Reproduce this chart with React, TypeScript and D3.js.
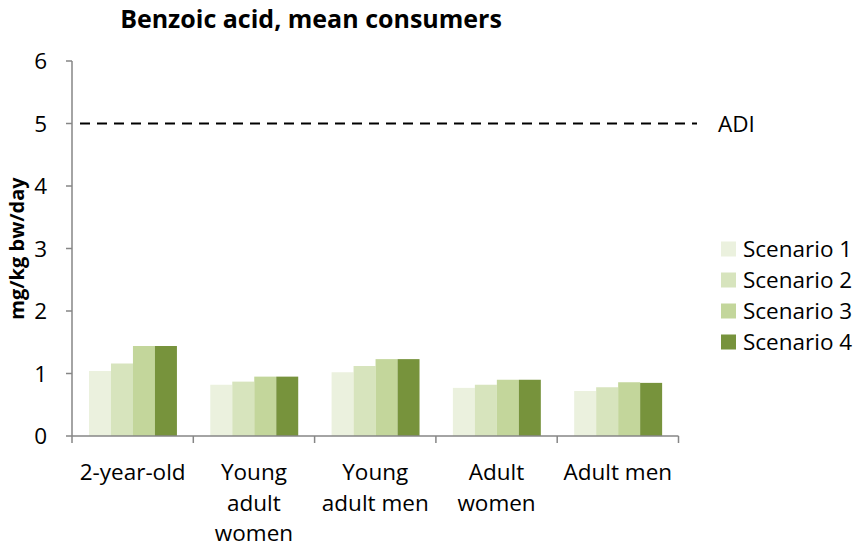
import React from "react";
import * as d3 from "d3";

const categories = ["2-year-old", "Young adult women", "Young adult men", "Adult women", "Adult men"];
const categoryLines = [["2-year-old"], ["Young", "adult", "women"], ["Young", "adult men"], ["Adult", "women"], ["Adult men"]];
const seriesNames = ["Scenario 1", "Scenario 2", "Scenario 3", "Scenario 4"];
const scenario1 = [1.04, 0.82, 1.02, 0.77, 0.72];
const scenario2 = [1.16, 0.87, 1.12, 0.82, 0.78];
const scenario3 = [1.44, 0.95, 1.23, 0.9, 0.86];
const scenario4 = [1.44, 0.95, 1.23, 0.9, 0.85];
const seriesValues = [scenario1, scenario2, scenario3, scenario4];
const colors = ["#EBF1DE", "#D7E4BD", "#C3D69B", "#77933C"];
const yTicks = [0, 1, 2, 3, 4, 5, 6];
const adiValue = 5;
const adiLabel = "ADI";
const title = "Benzoic acid, mean consumers";
const yTitle = "mg/kg bw/day";

const FONT = "'Open Sans', Lato, sans-serif";

export default function App() {
  const W = 859, H = 547;
  const left = 72, right = 678.5, top = 61, bottom = 436;
  const x0 = d3.scaleBand<string>().domain(categories).range([left, right]).padding(0);
  const bw = x0.bandwidth();
  const x1 = d3.scaleBand<string>().domain(seriesNames).range([bw * 0.14, bw * 0.865]).padding(0);
  const y = d3.scaleLinear().domain([0, 6]).range([bottom, top]);
  const axisColor = "#868686";
  const fs = 22.5;

  return (
    <svg width={W} height={H} style={{ position: "absolute", left: 0, top: 0, background: "#fff" }} fontFamily={FONT}>
      <rect x={0} y={0} width={W} height={H} fill="#fff" />
      <text x={311} y={28} textAnchor="middle" fontSize={25} fontWeight="bold" fill="#000">{title}</text>
      {/* bars */}
      {categories.map((c, ci) => (
        <g key={c} transform={`translate(${x0(c)},0)`}>
          {seriesNames.map((s, si) => {
            const v = seriesValues[si][ci];
            return (
              <rect key={s} x={x1(s)} y={y(v)} width={x1.bandwidth()} height={bottom - y(v)} fill={colors[si]} />
            );
          })}
        </g>
      ))}
      {/* y axis */}
      <line x1={left} x2={left} y1={top} y2={bottom} stroke={axisColor} strokeWidth={1.5} />
      {yTicks.map((t) => (
        <g key={t}>
          <line x1={left - 6} x2={left} y1={y(t)} y2={y(t)} stroke={axisColor} strokeWidth={1.5} />
          <text x={47} y={y(t)} dy="0.36em" textAnchor="end" fontSize={fs} fill="#000">{t}</text>
        </g>
      ))}
      {/* x axis */}
      <line x1={left} x2={right} y1={bottom} y2={bottom} stroke={axisColor} strokeWidth={1.5} />
      {[...categories.map((c) => x0(c)!), right].map((xv, i) => (
        <line key={i} x1={xv} x2={xv} y1={bottom} y2={bottom + 7} stroke={axisColor} strokeWidth={1.5} />
      ))}
      {categories.map((c, ci) => (
        <text key={c} textAnchor="middle" fontSize={fs} fill="#000">
          {categoryLines[ci].map((ln, li) => (
            <tspan key={li} x={x0(c)! + bw / 2} y={480 + li * 30.5}>{ln}</tspan>
          ))}
        </text>
      ))}
      {/* ADI line */}
      <line x1={80} x2={697} y1={y(adiValue)} y2={y(adiValue)} stroke="#000" strokeWidth={2} strokeDasharray="10,7" />
      <text x={718} y={y(adiValue)} dy="0.36em" fontSize={fs} fill="#000">{adiLabel}</text>
      {/* y title */}
      <text transform={`translate(24,${(top + bottom) / 2}) rotate(-90)`} textAnchor="middle" fontSize={20} fontWeight="bold" fill="#000">{yTitle}</text>
      {/* legend */}
      {seriesNames.map((s, si) => (
        <g key={s} transform={`translate(721,${249 + si * 31})`}>
          <rect x={0} y={-7.5} width={15} height={15} fill={colors[si]} />
          <text x={22} y={0} dy="0.36em" fontSize={fs} fill="#000">{s}</text>
        </g>
      ))}
    </svg>
  );
}
